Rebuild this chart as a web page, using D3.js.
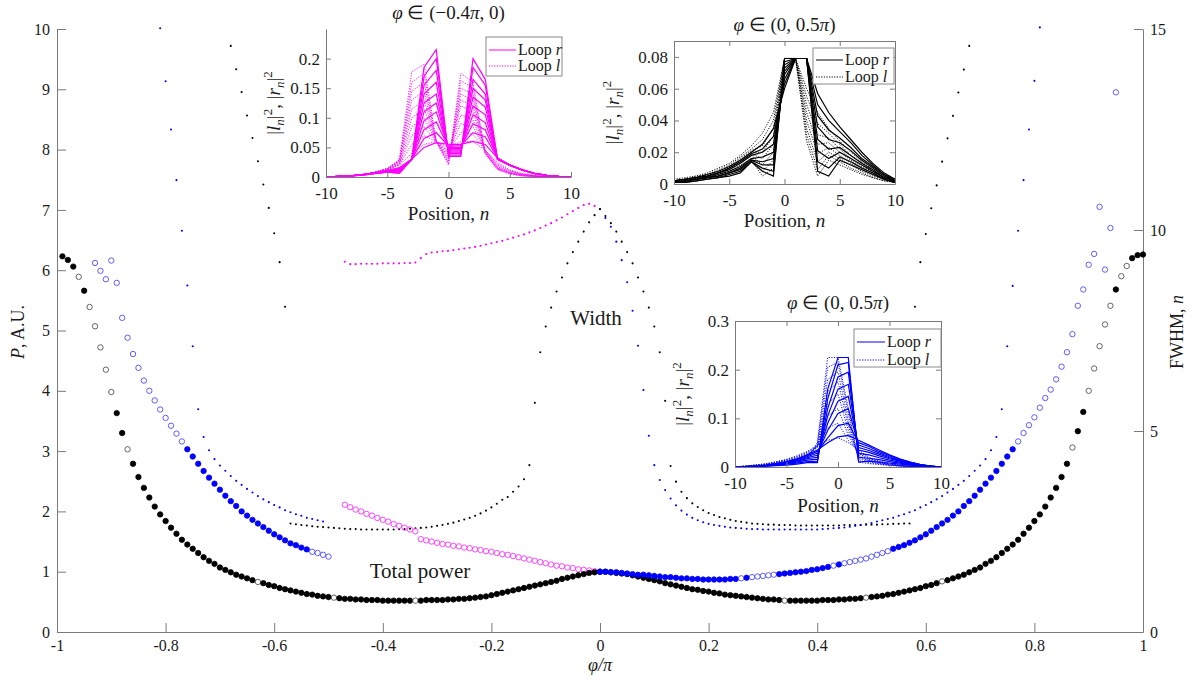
<!DOCTYPE html>
<html><head><meta charset="utf-8">
<script src="https://cdn.jsdelivr.net/npm/d3@7"></script>
<style>
body{margin:0;background:#fff}
svg, svg text{font-family:"Liberation Serif","Times New Roman",serif !important}
text{fill:#1a1a1a}
</style>
</head><body>
<svg id="c" width="1193" height="683"></svg>
<script>
// ---------------- DATA ----------------
const xTicks = [-1,-0.8,-0.6,-0.4,-0.2,0,0.2,0.4,0.6,0.8,1];
const xTickLabels = ["-1","-0.8","-0.6","-0.4","-0.2","0","0.2","0.4","0.6","0.8","1"];
const pTicks = [0,1,2,3,4,5,6,7,8,9,10];
const fTicks = [0,5,10,15];

// Total power (black circles), phi from -0.99 step 0.01
const totalStart = -0.99;
const totalPower = [
6.23,6.17,6.06,5.89,5.66,5.39,5.07,4.72,4.35,3.98,
3.63,3.30,3.03,2.79,2.57,2.39,2.23,2.08,1.95,1.84,
1.73,1.63,1.53,1.45,1.38,1.31,1.24,1.18,1.13,1.07,
1.03,0.99,0.95,0.92,0.89,0.86,0.83,0.81,0.78,0.76,
0.73,0.71,0.69,0.67,0.65,0.63,0.62,0.60,0.59,0.58,
0.57,0.56,0.55,0.55,0.54,0.54,0.53,0.53,0.53,0.52,
0.52,0.52,0.52,0.52,0.52,0.52,0.52,0.53,0.53,0.53,
0.53,0.54,0.54,0.55,0.55,0.56,0.57,0.58,0.59,0.61,
0.63,0.65,0.67,0.69,0.71,0.73,0.75,0.77,0.79,0.81,
0.83,0.85,0.88,0.90,0.92,0.94,0.96,0.98,0.99,
1.00,
1.00,0.99,0.98,0.97,0.96,0.94,0.92,0.90,0.88,0.86,
0.84,0.81,0.79,0.77,0.75,0.73,0.71,0.70,0.68,0.67,
0.65,0.64,0.62,0.61,0.60,0.59,0.58,0.57,0.56,0.55,
0.54,0.54,0.53,0.52,0.52,0.52,0.52,0.52,0.52,0.52,
0.53,0.53,0.53,0.54,0.54,0.55,0.55,0.56,0.57,0.58,
0.59,0.60,0.62,0.63,0.65,0.67,0.69,0.71,0.73,0.76,
0.78,0.81,0.84,0.86,0.89,0.92,0.95,0.99,1.03,1.07,
1.13,1.18,1.24,1.31,1.38,1.45,1.53,1.63,1.73,1.84,
1.95,2.08,2.23,2.39,2.57,2.79,3.06,3.33,3.65,4.00,
4.37,4.74,5.10,5.41,5.68,5.90,6.07,6.20,6.25,6.26];
const totalOpen = [-0.96,-0.94,-0.93,-0.92,-0.91,-0.90,-0.87,-0.63,-0.49,-0.34,
  0.34,0.49,0.63,0.87,0.90,0.91,0.92,0.93,0.94,0.96,0.97];

// Blue circles, left branch from -0.93, right branch from 0.00
const blueLeftStart = -0.93;
const blueLeftP = [
6.12,5.99,5.85,6.16,5.79,5.21,4.88,4.61,4.38,4.17,
4.00,3.84,3.69,3.55,3.42,3.29,3.16,3.03,2.91,2.79,
2.67,2.56,2.46,2.36,2.26,2.17,2.09,2.00,1.93,1.86,
1.80,1.74,1.68,1.62,1.57,1.52,1.47,1.44,1.40,1.37,
1.33,1.31,1.28,1.25];
const blueLeftOpen = [-0.93,-0.92,-0.91,-0.90,-0.89,-0.88,-0.87,-0.86,-0.85,-0.84,-0.83,
  -0.82,-0.81,-0.80,-0.79,-0.78,-0.77,-0.53,-0.52,-0.51,-0.50];
const blueRightStart = 0.00;
const blueRightP = [
1.00,1.00,0.99,0.99,0.98,0.97,0.96,0.95,0.95,0.94,
0.93,0.92,0.91,0.91,0.90,0.89,0.89,0.88,0.88,0.87,
0.87,0.87,0.87,0.87,0.88,0.88,0.89,0.90,0.91,0.92,
0.93,0.94,0.95,0.96,0.97,0.98,0.99,1.00,1.01,1.03,
1.04,1.06,1.08,1.10,1.12,1.14,1.16,1.18,1.20,1.22,
1.25,1.28,1.31,1.34,1.38,1.41,1.44,1.48,1.52,1.57,
1.62,1.68,1.74,1.80,1.86,1.93,2.00,2.09,2.17,2.26,
2.36,2.46,2.56,2.67,2.79,2.91,3.03,3.16,3.30,3.43,
3.56,3.72,3.88,4.02,4.19,4.40,4.64,4.94,5.41,5.68,
6.09,6.27,7.05,6.01,6.70,8.95];
const blueRightOpen = [0.26,0.28,0.29,0.30,0.31,0.32,0.43,0.45,0.46,0.47,0.48,0.49,0.50,0.51,0.52,0.53,
  0.77,0.78,0.79,0.80,0.81,0.82,0.83,0.84,0.85,0.86,0.87,0.88,0.89,0.90,0.91,0.92,0.93,0.94,0.95];

// Magenta open circles
const magStart = -0.47;
const magP = [
2.11,2.07,2.03,2.00,1.96,1.93,1.89,1.86,1.83,1.79,
1.76,1.73,1.70,1.67,1.54,1.52,1.50,1.48,1.46,1.45,
1.43,1.42,1.40,1.39,1.37,1.36,1.34,1.33,1.31,1.29,
1.28,1.26,1.24,1.22,1.20,1.18,1.16,1.14,1.12,1.10,
1.09,1.07,1.06,1.04,1.03,1.02,1.01,1.00];

// FWHM (width) small dots, right axis
const magF = [
9.21,9.15,9.15,9.16,9.16,9.16,9.16,9.17,9.17,9.17,
9.17,9.18,9.18,9.19,9.30,9.40,9.44,9.45,9.47,9.48,
9.50,9.52,9.54,9.56,9.58,9.61,9.64,9.67,9.70,9.73,
9.77,9.81,9.85,9.89,9.94,9.99,10.05,10.11,10.17,10.24,
10.31,10.39,10.47,10.55,10.62,10.65,10.60,10.52];
const blackFUpLeftStart = -0.68;
const blackFUpLeft = [14.58,14.00,13.43,12.85,12.29,11.71,11.13,10.55,9.92,9.20,8.09];
const blackFUpRightStart = 0.58;
const blackFUpRight = [8.09,9.20,9.90,10.54,11.11,11.70,12.28,12.84,13.42,13.99,14.58];
const blackFCenterStart = -0.57;
const blackFCenter = [
2.70,2.68,2.66,2.65,2.63,2.62,2.61,2.60,2.59,2.58,
2.57,2.56,2.56,2.55,2.55,2.55,2.55,2.55,2.55,2.55,
2.56,2.56,2.57,2.58,2.59,2.60,2.62,2.64,2.66,2.69,
2.72,2.76,2.80,2.84,2.89,2.95,3.02,3.10,3.19,3.29,
3.36,3.49,3.62,3.80,4.15,5.70,6.96,7.60,8.07,8.47,
8.82,9.17,9.45,9.71,9.96,10.19,10.37,10.52,
10.35,10.17,9.96,9.71,9.45,9.17,8.82,8.47,8.07,7.60,
6.96,5.75,4.13,3.74,3.49,3.33,3.20,3.11,3.03,2.96,
2.91,2.86,2.83,2.79,2.76,2.74,2.72,2.70,2.69,2.68,
2.67,2.67,2.66,2.66,2.66,2.65,2.65,2.65,2.65,2.65,
2.65,2.65,2.65,2.65,2.66,2.66,2.66,2.66,2.67,2.67,
2.67,2.68,2.68,2.69,2.69,2.70,2.70];
const blueFLeftStart = -0.81;
const blueFLeft = [
15.02,13.70,12.50,11.24,9.98,8.62,7.11,5.54,4.85,4.52,
4.30,4.14,4.01,3.88,3.76,3.66,3.56,3.47,3.38,3.30,
3.23,3.16,3.10,3.03,2.98,2.93,2.89,2.84,2.81,2.78,
2.75];
const blueFRightStart = 0.01;
const blueFRight = [
10.30,10.08,9.71,9.25,8.70,7.99,7.12,6.02,4.88,4.15,
3.78,3.53,3.32,3.15,3.02,2.92,2.84,2.78,2.73,2.69,
2.66,2.64,2.62,2.60,2.59,2.58,2.57,2.56,2.56,2.55,
2.55,2.55,2.55,2.55,2.55,2.55,2.55,2.55,2.55,2.55,
2.56,2.57,2.58,2.59,2.60,2.62,2.64,2.66,2.68,2.71,
2.75,2.78,2.81,2.84,2.89,2.93,2.98,3.03,3.10,3.16,
3.23,3.30,3.38,3.47,3.56,3.66,3.76,3.88,4.01,4.14,
4.30,4.52,4.85,5.54,7.11,8.61,9.98,11.24,12.50,13.71,
15.04];

// Inset profiles, positions n = -10..10
const positions = [-10,-9,-8,-7,-6,-5,-4,-3,-2,-1,0,1,2,3,4,5,6,7,8,9,10];
const magLoopR = [
[0,.001,.002,.004,.007,.011,.016,.03,.05,.058,.055,.055,.06,.055,.032,.02,.012,.006,.003,.001,0],
[0,.001,.002,.004,.007,.011,.015,.03,.065,.075,.052,.053,.075,.068,.032,.02,.012,.006,.003,.001,0],
[0,.001,.002,.004,.007,.011,.014,.03,.08,.093,.05,.05,.09,.08,.032,.02,.012,.006,.003,.001,0],
[0,.001,.002,.004,.007,.01,.013,.03,.095,.11,.048,.048,.105,.092,.031,.02,.012,.006,.003,.001,0],
[0,.001,.002,.004,.007,.01,.012,.03,.11,.125,.046,.046,.12,.105,.031,.02,.012,.006,.003,.001,0],
[0,.001,.002,.004,.006,.009,.011,.03,.125,.14,.044,.044,.135,.118,.031,.02,.012,.006,.003,.001,0],
[0,.001,.002,.004,.006,.009,.01,.03,.14,.16,.042,.042,.15,.13,.03,.02,.012,.006,.003,.001,0],
[0,.001,.002,.003,.006,.008,.009,.03,.155,.18,.04,.04,.165,.14,.03,.02,.012,.006,.003,.001,0],
[0,.001,.002,.003,.006,.008,.007,.03,.17,.2,.037,.037,.185,.155,.03,.02,.012,.006,.003,.001,0],
[0,.001,.002,.003,.006,.008,.006,.03,.185,.215,.035,.035,.2,.165,.03,.02,.012,.006,.003,.001,0]];
const magLoopL = [
[0,.001,.002,.004,.007,.012,.02,.04,.055,.06,.05,.06,.06,.045,.025,.012,.006,.003,.001,0,0],
[0,.001,.002,.004,.007,.012,.021,.055,.07,.06,.045,.075,.072,.045,.022,.011,.005,.002,.001,0,0],
[0,.001,.002,.004,.008,.013,.022,.07,.085,.06,.042,.09,.085,.045,.02,.01,.005,.002,.001,0,0],
[0,.001,.002,.004,.008,.013,.023,.085,.1,.06,.038,.105,.097,.044,.018,.009,.004,.002,.001,0,0],
[0,.001,.002,.004,.008,.013,.025,.1,.115,.06,.035,.12,.11,.043,.017,.008,.004,.002,.001,0,0],
[0,.001,.002,.004,.008,.014,.026,.115,.13,.06,.032,.13,.12,.042,.016,.007,.003,.001,0,0,0],
[0,.001,.002,.004,.008,.014,.027,.13,.145,.06,.029,.14,.13,.041,.015,.007,.003,.001,0,0,0],
[0,.001,.002,.004,.008,.014,.028,.145,.16,.06,.026,.15,.14,.04,.014,.006,.002,.001,0,0,0],
[0,.001,.002,.004,.008,.014,.029,.16,.175,.06,.023,.163,.15,.04,.013,.006,.002,.001,0,0,0],
[0,.001,.002,.004,.008,.014,.03,.178,.19,.06,.02,.175,.16,.04,.012,.005,.002,.001,0,0,0]];
const blkLoopR = [
[.002,.003,.004,.006,.008,.011,.015,.02,.025,.035,.06,.079,.079,.057,.045,.036,.028,.02,.013,.007,.003],
[.002,.003,.004,.005,.007,.01,.014,.019,.022,.03,.063,.079,.079,.05,.04,.033,.026,.018,.012,.006,.003],
[.002,.003,.004,.005,.007,.009,.013,.018,.02,.025,.066,.079,.079,.043,.034,.029,.023,.016,.011,.006,.002],
[.001,.002,.003,.004,.006,.008,.011,.016,.017,.02,.069,.079,.079,.036,.028,.026,.021,.015,.01,.005,.002],
[.001,.002,.003,.004,.005,.007,.01,.015,.014,.016,.071,.079,.079,.028,.022,.023,.018,.013,.009,.004,.002],
[.001,.002,.003,.004,.005,.007,.009,.015,.012,.012,.073,.079,.079,.021,.016,.02,.016,.012,.008,.004,.002],
[.001,.001,.002,.003,.004,.006,.008,.014,.01,.008,.075,.079,.079,.014,.01,.017,.014,.01,.007,.003,.001],
[.001,.001,.002,.003,.004,.005,.007,.014,.008,.005,.077,.079,.079,.008,.005,.015,.012,.009,.006,.003,.001]];
const blkLoopL = [
[.003,.004,.005,.007,.01,.013,.018,.024,.032,.045,.079,.079,.06,.045,.035,.027,.02,.014,.009,.005,.002],
[.002,.003,.005,.006,.009,.012,.017,.022,.028,.04,.079,.079,.055,.038,.032,.025,.018,.013,.008,.004,.002],
[.002,.003,.004,.006,.008,.011,.016,.021,.024,.035,.079,.079,.05,.031,.029,.022,.016,.011,.008,.004,.002],
[.002,.003,.004,.005,.007,.01,.015,.02,.02,.03,.079,.079,.045,.025,.026,.02,.015,.01,.007,.003,.001],
[.001,.002,.003,.005,.007,.01,.014,.019,.016,.025,.079,.079,.04,.019,.023,.018,.013,.009,.006,.003,.001],
[.001,.002,.003,.004,.006,.009,.013,.018,.012,.02,.079,.079,.035,.014,.02,.016,.012,.008,.005,.003,.001],
[.001,.002,.003,.004,.006,.008,.012,.016,.008,.015,.079,.079,.031,.009,.018,.014,.01,.007,.004,.002,.001],
[.001,.002,.003,.004,.005,.007,.01,.015,.005,.01,.079,.079,.027,.005,.015,.012,.009,.006,.004,.002,.001]];
const bluLoopR = [
[0,.001,.002,.004,.007,.011,.017,.025,.035,.05,.062,.065,.055,.045,.035,.025,.017,.01,.005,.002,0],
[0,.001,.002,.004,.007,.01,.016,.023,.032,.06,.085,.09,.05,.042,.032,.023,.016,.01,.005,.002,0],
[0,.001,.002,.003,.006,.01,.015,.021,.028,.075,.11,.12,.045,.038,.029,.021,.014,.009,.005,.002,0],
[0,.001,.002,.003,.006,.009,.013,.019,.024,.09,.135,.145,.04,.034,.026,.019,.013,.008,.004,.002,0],
[0,.001,.002,.003,.005,.008,.012,.017,.02,.105,.16,.17,.035,.03,.023,.017,.012,.007,.004,.002,0],
[0,.001,.001,.003,.005,.007,.01,.014,.016,.12,.185,.195,.028,.025,.019,.014,.01,.006,.003,.001,0],
[0,.001,.001,.002,.004,.006,.008,.011,.012,.14,.21,.215,.02,.018,.015,.011,.008,.005,.003,.001,0],
[0,0,.001,.002,.003,.004,.006,.009,.009,.16,.225,.225,.01,.012,.01,.008,.006,.004,.002,.001,0]];
const bluLoopL = [
[0,.002,.004,.007,.011,.016,.023,.032,.045,.055,.06,.05,.035,.02,.012,.007,.004,.002,.001,0,0],
[0,.002,.004,.006,.01,.015,.021,.03,.043,.08,.09,.055,.032,.018,.011,.006,.003,.002,.001,0,0],
[0,.002,.004,.006,.01,.014,.02,.028,.041,.105,.12,.065,.028,.016,.01,.006,.003,.002,.001,0,0],
[0,.001,.003,.005,.009,.013,.018,.026,.04,.13,.15,.075,.024,.014,.009,.005,.003,.001,0,0,0],
[0,.001,.003,.005,.008,.012,.017,.024,.042,.155,.175,.085,.02,.013,.008,.005,.003,.001,0,0,0],
[0,.001,.002,.004,.007,.011,.015,.022,.044,.18,.195,.095,.017,.011,.007,.004,.002,.001,0,0,0],
[0,.001,.002,.004,.006,.009,.013,.019,.047,.205,.215,.11,.013,.009,.006,.004,.002,.001,0,0,0],
[0,.001,.002,.003,.005,.007,.01,.015,.05,.225,.225,.12,.01,.007,.005,.003,.002,.001,0,0,0]];

// ---------------- DRAW ----------------
const svg = d3.select('#c');
const FONT = '"Liberation Serif","Times New Roman",serif';
const AX = '#7a7a7a';
const grid = (start, n) => d3.range(n).map(i => +(start + i*0.01).toFixed(2));
const has = (arr, v) => arr.some(a => Math.abs(a - v) < 1e-6);

const x = d3.scaleLinear([-1,1],[57,1143]);
const yP = d3.scaleLinear([0,10],[632,29]);
const yF = d3.scaleLinear([0,15],[632,29]);

function styleAxis(g, fs){
  g.attr('font-family', null).style('font-family', FONT);
  if (fs) g.attr('font-size', fs);
  g.selectAll('.domain').attr('stroke',AX).attr('stroke-width',1);
  g.selectAll('.tick line').attr('stroke',AX).attr('stroke-width',1);
  g.selectAll('.tick text').style('font-family',FONT).attr('fill','#1a1a1a');
}
const fmtPlain = d => String(d);
const gx = svg.append('g').attr('transform','translate(0,632)')
  .call(d3.axisBottom(x).tickValues(xTicks).tickFormat((d,i)=>xTickLabels[i]).tickSizeInner(-9).tickSizeOuter(0).tickPadding(8));
styleAxis(gx,16);
const gyl = svg.append('g').attr('transform','translate(57,0)')
  .call(d3.axisLeft(yP).tickValues(pTicks).tickFormat(fmtPlain).tickSizeInner(-9).tickSizeOuter(0).tickPadding(7));
styleAxis(gyl,16);
const gyr = svg.append('g').attr('transform','translate(1143,0)')
  .call(d3.axisRight(yF).tickValues(fTicks).tickFormat(fmtPlain).tickSizeInner(-9).tickSizeOuter(0).tickPadding(7));
styleAxis(gyr,16);

// axis labels
const xl = svg.append('text').attr('x',600).attr('y',671).attr('text-anchor','middle').attr('font-size',18);
xl.append('tspan').attr('font-style','italic').text('φ/π');
const yl = svg.append('text').attr('transform','translate(24,332) rotate(-90)').attr('text-anchor','middle').attr('font-size',18);
yl.append('tspan').attr('font-style','italic').text('P');
yl.append('tspan').text(', A.U.');
const yr = svg.append('text').attr('transform','translate(1183,332) rotate(-90)').attr('text-anchor','middle').attr('font-size',18);
yr.append('tspan').text('FWHM, ');
yr.append('tspan').attr('font-style','italic').text('n');

// small FWHM dots
const gd = svg.append('g');
function smallDots(start, vals, color){
  const ph = grid(start, vals.length);
  gd.append('g').selectAll('circle').data(vals).join('circle')
    .attr('cx',(d,i)=>x(ph[i])).attr('cy',d=>yF(d)).attr('r',1.05).attr('fill',color);
}
smallDots(magStart, magF, '#ff00ff');
smallDots(blackFUpLeftStart, blackFUpLeft, '#000');
smallDots(blackFUpRightStart, blackFUpRight, '#000');
smallDots(blackFCenterStart, blackFCenter, '#000');
smallDots(blueFLeftStart, blueFLeft, '#0000ff');
smallDots(blueFRightStart, blueFRight, '#0000ff');

// circle markers
const gc = svg.append('g');
function circles(start, vals, color, openSet, openColor){
  const ph = grid(start, vals.length);
  const data = vals.map((v,i)=>({p:ph[i], v, open: openSet===true || has(openSet, ph[i])}));
  gc.append('g').selectAll('circle').data(data).join('circle')
    .attr('cx',d=>x(d.p)).attr('cy',d=>yP(d.v)).attr('r',2.7)
    .attr('fill',d=>d.open?'none':color)
    .attr('stroke',d=>d.open?openColor:color).attr('stroke-width',d=>d.open?0.9:0.8);
}
circles(magStart, magP, '#ff00ff', true, '#ff33ff');
circles(totalStart, totalPower, '#000', totalOpen, '#555');
circles(blueLeftStart, blueLeftP, '#0000ff', blueLeftOpen, '#4d4dff');
circles(blueRightStart, blueRightP, '#0000ff', blueRightOpen, '#4d4dff');

// annotations
svg.append('text').attr('x',596).attr('y',325).attr('text-anchor','middle').attr('font-size',21).text('Width');
svg.append('text').attr('x',420).attr('y',578).attr('text-anchor','middle').attr('font-size',21).text('Total power');

// ---------- insets ----------
function ylabel(g, cx, cy){
  const t = g.append('text').attr('transform',`translate(${cx},${cy}) rotate(-90)`).attr('text-anchor','middle').attr('font-size',19);
  t.append('tspan').text('|');
  t.append('tspan').attr('font-style','italic').text('l');
  t.append('tspan').attr('font-style','italic').attr('font-size',13).attr('dy',4).text('n');
  t.append('tspan').attr('dy',-4).text('|');
  t.append('tspan').attr('font-size',13).attr('dy',-8).text('2');
  t.append('tspan').attr('dy',8).text(', |');
  t.append('tspan').attr('font-style','italic').text('r');
  t.append('tspan').attr('font-style','italic').attr('font-size',13).attr('dy',4).text('n');
  t.append('tspan').attr('dy',-4).text('|');
  t.append('tspan').attr('font-size',13).attr('dy',-8).text('2');
}
function inset(cfg){
  const g = svg.append('g');
  const xs = d3.scaleLinear([-10,10],[cfg.x0,cfg.x1]);
  const ys = d3.scaleLinear([0,cfg.ymax],[cfg.y0,cfg.y1]);
  g.append('rect').attr('x',cfg.x0).attr('y',cfg.y1).attr('width',cfg.x1-cfg.x0).attr('height',cfg.y0-cfg.y1).attr('fill','#fff');
  const line = d3.line().x((d,i)=>xs(positions[i])).y(d=>ys(d));
  const gl = g.append('g');
  cfg.dotted.forEach(c=>gl.append('path').attr('d',line(c)).attr('fill','none').attr('stroke',cfg.color).attr('stroke-width',0.9).attr('stroke-dasharray','1.2,1.4'));
  cfg.solid.forEach(c=>gl.append('path').attr('d',line(c)).attr('fill','none').attr('stroke',cfg.color).attr('stroke-width',1.2));
  const ax = g.append('g').attr('transform',`translate(0,${cfg.y0})`)
    .call(d3.axisBottom(xs).tickValues([-10,-5,0,5,10]).tickFormat(fmtPlain).tickSizeInner(-5).tickSizeOuter(0).tickPadding(cfg.xpad));
  styleAxis(ax,17);
  const ay = g.append('g').attr('transform',`translate(${cfg.x0},0)`)
    .call(d3.axisLeft(ys).tickValues(cfg.yticks).tickFormat(d=>String(+d.toFixed(3))).tickSizeInner(-5).tickSizeOuter(0).tickPadding(6));
  styleAxis(ay,17);
  if(cfg.box){
    const at = g.append('g').attr('transform',`translate(0,${cfg.y1})`)
      .call(d3.axisTop(xs).tickValues([-10,-5,0,5,10]).tickFormat('').tickSizeInner(-5).tickSizeOuter(0));
    styleAxis(at);
    const ar = g.append('g').attr('transform',`translate(${cfg.x1},0)`)
      .call(d3.axisRight(ys).tickValues(cfg.yticks).tickFormat('').tickSizeInner(-5).tickSizeOuter(0));
    styleAxis(ar);
  }
  const tt = g.append('text').attr('x',(cfg.x0+cfg.x1)/2).attr('y',cfg.ty).attr('text-anchor','middle').attr('font-size',19);
  tt.append('tspan').attr('font-style','italic').text('φ');
  tt.append('tspan').text(' ∈ (' + cfg.tpre);
  tt.append('tspan').attr('font-style','italic').text('π');
  tt.append('tspan').text(cfg.tpost);
  const xlab = g.append('text').attr('x',(cfg.x0+cfg.x1)/2).attr('y',cfg.xly).attr('text-anchor','middle').attr('font-size',19);
  xlab.append('tspan').text('Position,  ');
  xlab.append('tspan').attr('font-style','italic').text('n');
  ylabel(g, cfg.ylx, (cfg.y0+cfg.y1)/2);
  const L = cfg.leg;
  g.append('rect').attr('x',L.x).attr('y',L.y).attr('width',L.w).attr('height',L.h).attr('fill','#fff').attr('stroke','#8a8a8a').attr('stroke-width',1);
  const rows = [{lab:'r',dash:null,y:L.r1},{lab:'l',dash:'1.2,1.4',y:L.r2}];
  rows.forEach(r=>{
    g.append('line').attr('x1',L.x+3).attr('x2',L.x+3+L.s).attr('y1',r.y).attr('y2',r.y)
      .attr('stroke',cfg.color).attr('stroke-width',1).attr('stroke-dasharray',r.dash);
    const t = g.append('text').attr('x',L.x+5+L.s).attr('y',r.y+5).attr('font-size',16);
    t.append('tspan').text('Loop ');
    t.append('tspan').attr('font-style','italic').text(r.lab);
  });
}

inset({x0:326,x1:571,y0:177,y1:29,ymax:0.25,yticks:[0,0.05,0.1,0.15,0.2],color:'#ff00ff',
  solid:magLoopR,dotted:magLoopL,box:false,xpad:10,ty:19,tpre:'−0.4',tpost:', 0)',xly:220,ylx:280,
  leg:{x:486,y:37,w:76,h:39,s:27,r1:50,r2:66}});
inset({x0:674,x1:895,y0:184,y1:41,ymax:0.09,yticks:[0,0.02,0.04,0.06,0.08],color:'#000',
  solid:blkLoopR,dotted:blkLoopL,box:true,xpad:10,ty:31,tpre:'0, 0.5',tpost:')',xly:227,ylx:619,
  leg:{x:813,y:48,w:81,h:36,s:27,r1:60,r2:77}});
inset({x0:735,x1:941,y0:467,y1:321,ymax:0.3,yticks:[0,0.1,0.2,0.3],color:'#0000ff',
  solid:bluLoopR,dotted:bluLoopL,box:true,xpad:10,ty:309,tpre:'0, 0.5',tpost:')',xly:512,ylx:689,
  leg:{x:854,y:329,w:87,h:38,s:28,r1:342,r2:360}});
</script>
</body></html>
